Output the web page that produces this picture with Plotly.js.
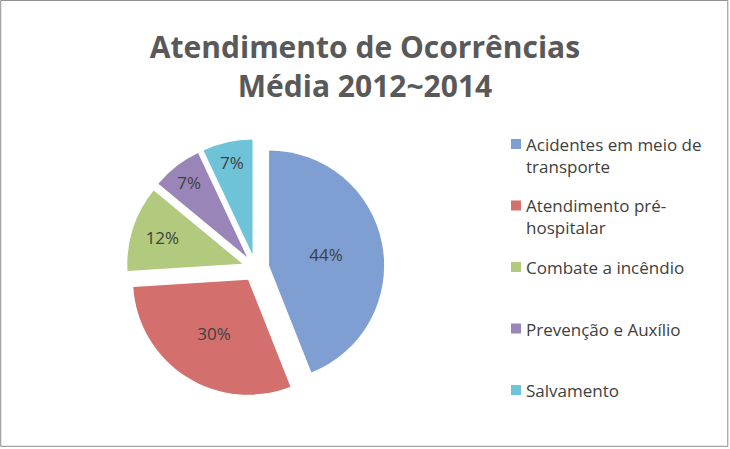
<!DOCTYPE html>
<html>
<head>
<meta charset="utf-8">
<script src="https://cdn.plot.ly/plotly-3.0.1.min.js"></script>
<style>
  html, body { margin: 0; padding: 0; background: #fff; }
  #chart { width: 730px; height: 449px; }
</style>
</head>
<body>
<div id="chart"></div>
<script>
// Average share of occurrences, 2012-2014
const categories = [
  "Acidentes em meio de<br>transporte",
  "Atendimento pré-<br>hospitalar",
  "Combate a incêndio",
  "Prevenção e Auxílio",
  "Salvamento",
];
const shares = [44, 30, 12, 7, 7];
const sliceColors = ["#7f9fd2", "#d3706d", "#b1ca7d", "#9a85b8", "#6fc3d8"];

const W = 730, H = 449;
const FONT = "'Open Sans', sans-serif";

// Excel-style legend: evenly spaced rows, square swatch then wrapped label
const legendX = 511, legendTop = 144, legendStep = 61.5, swatch = 10;
const legendShapes = [];
const legendNotes = [];
categories.forEach((c, i) => {
  const cy = legendTop + i * legendStep;
  legendShapes.push({
    type: "rect",
    xref: "paper",
    yref: "paper",
    x0: legendX / W,
    x1: (legendX + swatch) / W,
    y0: 1 - (cy + swatch / 2) / H,
    y1: 1 - (cy - swatch / 2) / H,
    fillcolor: sliceColors[i],
    line: { width: 0 },
  });
  legendNotes.push({
    xref: "paper",
    yref: "paper",
    x: (legendX + swatch + 3) / W,
    y: 1 - (cy - 13) / H,
    xanchor: "left",
    yanchor: "top",
    align: "left",
    showarrow: false,
    text: c,
    font: { family: FONT, size: 17, color: "#404040" },
  });
});

const data = [
  {
    type: "pie",
    labels: categories,
    values: shares,
    sort: false,
    direction: "clockwise",
    rotation: 0,
    pull: 0.12,
    marker: { colors: sliceColors, line: { color: "#ffffff", width: 0 } },
    textinfo: "percent",
    textposition: "inside",
    insidetextorientation: "horizontal",
    textfont: { family: FONT, size: 17, color: "#404040" },
    domain: { x: [0.03, 0.67], y: [0.116, 0.69] },
    hoverinfo: "none",
    showlegend: false,
  },
];

const layout = {
  width: W,
  height: H,
  margin: { l: 0, r: 0, t: 0, b: 0 },
  paper_bgcolor: "#ffffff",
  font: { family: FONT, color: "#404040" },
  showlegend: false,
  title: {
    text: "Atendimento de Ocorrências<br>Média 2012~2014",
    font: { family: FONT, size: 30, color: "#595959", weight: "bold" },
    x: 0.5,
    xanchor: "center",
    y: 0.87,
    yanchor: "top",
  },
  annotations: legendNotes,
  shapes: [
    {
      type: "rect",
      xref: "paper",
      yref: "paper",
      x0: 0.001,
      x1: 0.997,
      y0: 0.006,
      y1: 0.999,
      line: { color: "#8c8c8c", width: 1 },
    },
  ].concat(legendShapes),
};

Plotly.newPlot("chart", data, layout, { staticPlot: true });
</script>
</body>
</html>
